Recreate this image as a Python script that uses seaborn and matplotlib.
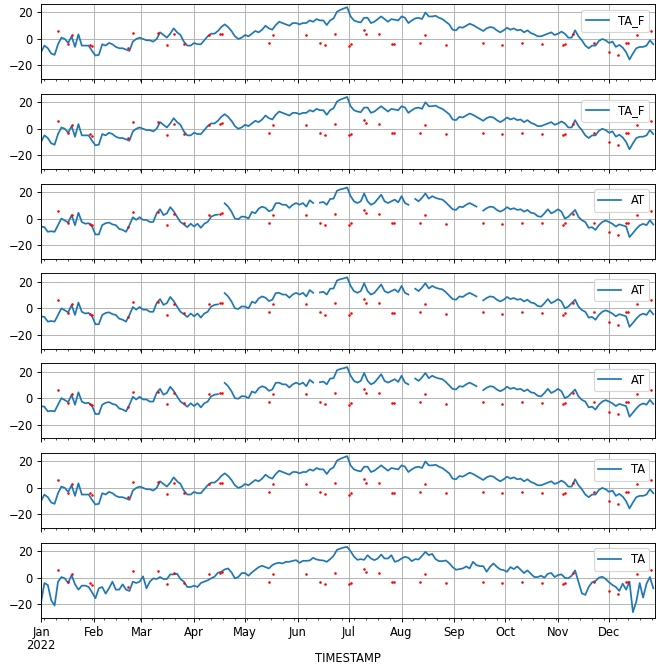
import numpy as np
import pandas as pd
import matplotlib
matplotlib.use("Agg")
import matplotlib.pyplot as plt
import matplotlib.dates as mdates
import matplotlib.ticker as mticker
import seaborn as sns

# ---------------- data (2-day resolution, 2022-01-01 .. 2022-12-27) ----------------
start_date = "2022-01-01"
n_points = 181

ta_f = [
    -10, -5, -7, -11, -12, -4, 1, 0, -3, 2,
    -6, 3.5, -5, -5, -5, -9, -12.5, -12, -4, -5,
    -3, -4, -6, -7, -7, -8, -9, -2, 0, 1,
    0, -1, -1, -2, 0, 5, 3, 1, 4, 8,
    5, 3, -2, -5, -5, -3, -4, -4, -1, 2,
    4, 4, 6, 9, 11, 9, 6, 2, 0, 1,
    3, 2, 4, 6, 5, 7, 10, 8, 7, 10.5,
    13, 12, 11, 10, 12, 12, 11, 12, 12, 14,
    13, 15, 14, 14, 10.5, 14, 15.5, 20.5, 22, 23,
    24, 17, 14, 13, 12.5, 16, 16, 12, 13, 15,
    17, 15, 13, 15, 14.5, 14, 17, 16, 12, 14,
    15.5, 16, 15, 20, 17, 17, 17.5, 16, 15, 13,
    11, 7, 6.5, 9, 8.5, 10, 11.5, 10.5, 9, 7.5,
    6, 8, 9, 8.5, 6.5, 5, 6.5, 8.5, 7, 8,
    6.5, 7, 5, 6.5, 4.5, 3.5, 2, 2, 3, 4,
    5, 3, 4, 5.5, 4, 1, 1, 6.5, 2, -1,
    -5, -7, -5, -5, -1.5, 0, -1, -3, -2, -6,
    -4.5, -6.5, -10, -15.5, -11, -7, -6, -6, -5, -1,
    -4,
]

nan = np.nan
at = [
    -6, -6.5, -10, -9.6, -10, -5, 0, -1.5, -3, 2.5,
    -5, 4.4, -2.6, -3.9, -3.5, -6, -12, -12, -5, -3.5,
    -3, -4.4, -5, -7.8, -8.6, -10, -5, 1, -1, 1,
    -1, -1, -2.6, -2.6, 4, 7, 2.6, 3.9, 8.6, 5.5,
    1.3, -2.6, -4.4, -6.5, -3.9, -6, -3.9, -7, -3.9, -2.6,
    1.3, 2.6, 3, nan, 11.5, 9, 5.2, 0, -0.5, 1.5,
    1.3, 0, 5, 4, 7.5, 9, 8, 5.5, 6.5, 11.5,
    11.7, 10.4, 10.4, 8, 10.4, 11.7, 10.4, 11.7, 9, 13.8,
    11.7, nan, 12, 12.5, 10.4, 14.8, 15, 21, 22, 22.6,
    23.4, 17, 13, 11.7, 13, 19, 13, 10.4, 11.7, 14.8,
    18, 13, 11.7, 13, 14.3, 12.2, 16.9, 11.7, 10.4, nan,
    14.8, 13, 15.6, 19, 15, 16.9, 15.6, 14.8, 14.3, 12.2,
    9.6, 7, 6.5, 9, 8.6, 10.4, 11.7, 10.4, 9, nan,
    6, 7.8, 9, 8.6, 6.5, 5.2, 6.5, 8.6, 7, 7.8,
    6.5, 7, 5.2, 6.5, 4.4, 3.9, 1.8, 1.3, 3.9, 7,
    3.9, 5.2, 7, 5.2, 0, 1.3, 3.9, 6.5, 1.3, -1.3,
    -2.6, -7, -6.5, -8.6, -5, -2.6, -1.5, -2.6, -4, -6,
    -4.4, -5.2, -6, -14, -11, -7.8, -5.2, -4, -5, -1.3,
    -4.5,
]

ta = [
    -19, -4, -5.5, -17, -21, -3, 0.5, -0.5, -4, 2,
    -5, -9, -6, -6, -7, -11, -15.5, -8, -7, -12,
    -8, -3, -9, -9, -5, -9, -10, -3, -4, -3,
    1, -8, -3, -0.5, -1, 0.5, -1, -1, 2.5, 2.5,
    3, -1, -3, -7, -7, -6, -7, -4, -3, -2,
    -0.5, 0.75, 3.75, 4.5, 6.25, 7, 4, -0.5, 0.5, 3.5,
    3.5, 1.5, 4, 6, 8, 9, 8, 7, 9.5, 10.75,
    11.25, 10.75, 12, 12, 12.75, 13.25, 11.25, 12.75, 12.75, 13,
    15, 13.75, 13.25, 13, 12, 14, 16.5, 21, 22, 22.75,
    23.25, 20, 16, 13.5, 14, 13.5, 17, 14.5, 13.25, 14.5,
    17.5, 14.5, 14.5, 17, 12, 12.75, 14.5, 15.75, 15, 12.5,
    14, 13.75, 16.5, 19.5, 17, 18, 14, 12.5, 12.5, 13,
    11, 8, 6, 6.5, 7, 8.5, 7, 12, 9.5, 8.75,
    8.75, 4.5, 8.25, 10.75, 8.25, 6.25, 5.75, 4.5, 8, 6.5,
    8.5, 6, 3.5, 5.5, 3, 0.5, 0.5, 1.5, 0, 3,
    3.5, 0.5, 2, 2.5, 0, -0.5, 1.5, 5.5, -3, -11.75,
    -13, -7, -3.5, -2.5, 0, 0.75, -1, -3.5, -5.5, -7,
    -10, -4.5, -9, -3, -26, -18, -4, -15, -4.5, 0.5,
    -8,
]

# red marker points (day of year offset, value)
dot_days = [10, 16, 18, 29, 30, 51, 54, 69, 74, 78, 84, 99, 105.5, 106.5, 134, 136.5,
            156, 164, 167, 173, 181, 182, 190, 191, 199, 206.5, 207.5, 223, 226, 238,
            260, 271, 283, 294.5, 307, 308, 313, 325, 334, 339, 344, 345, 350.5, 358.5]
dot_vals = [6, -3.5, 3, -4.2, -5.2, -6.7, 4.8, 4.8, -4.7, 3.5, -3.7, 3, 3.8, 4, -3, 3,
            3, -3, -4.7, 3.8, -5, -3.7, 6.8, 4, 3.8, -3.5, -3.5, -3, 3, -4.2,
            -3, -4.2, -3, -3.7, -4.7, -3.7, 3.8, -3, -10.2, -12.2, -3, -3, 3, 6]

panel_labels = ["TA_F", "TA_F", "AT", "AT", "AT", "TA", "TA"]
panel_series = [ta_f, ta_f, at, at, at, ta_f, ta]

# ---------------- plot ----------------
dates = pd.date_range(start_date, periods=n_points, freq="2D")
dot_dates = pd.Timestamp(start_date) + pd.to_timedelta(dot_days, unit="D")

DPI = 83
fig, axes = plt.subplots(7, 1, figsize=(656 / DPI, 664 / DPI), dpi=DPI,
                         sharex=True, sharey=True)
fig.subplots_adjust(left=0.0625, right=0.9985, top=0.994, bottom=0.0693, hspace=0.193)

def month_fmt(x, pos=None):
    d = mdates.num2date(x)
    if d.month == 1:
        return d.strftime("%b\n%Y")
    return d.strftime("%b")

for i, (ax, lab, vals) in enumerate(zip(axes, panel_labels, panel_series)):
    df = pd.DataFrame({"TIMESTAMP": dates, "value": vals})
    df["seg"] = df["value"].isna().cumsum()
    df = df.dropna()
    sns.lineplot(data=df, x="TIMESTAMP", y="value", units="seg", estimator=None,
                 ax=ax, color="#1f77b4", linewidth=1.5, label=lab)
    sns.scatterplot(x=dot_dates, y=dot_vals, ax=ax, color="red", s=5,
                    linewidth=0, legend=False, zorder=3)
    handles, labels = ax.get_legend_handles_labels()
    ax.legend(handles[:1], labels[:1], loc="upper right")
    ax.set_ylim(-30.4, 26.4)
    ax.set_yticks([-20, 0, 20])
    ax.set_xlim(pd.Timestamp("2022-01-01"), pd.Timestamp("2022-12-28"))
    ax.xaxis.set_major_locator(mdates.MonthLocator())
    ax.xaxis.set_minor_locator(mdates.WeekdayLocator(byweekday=mdates.MO))
    ax.xaxis.set_major_formatter(mticker.FuncFormatter(month_fmt))
    ax.grid(True, which="major", color="#b0b0b0", linewidth=0.8)
    ax.set_ylabel("")
    ax.set_xlabel("")

axes[-1].set_xlabel("TIMESTAMP", labelpad=0)
for lbl in axes[-1].get_xticklabels():
    lbl.set_rotation(0)
    lbl.set_ha("center")
    lbl.set_linespacing(1.0)

fig.savefig("out.png", dpi=DPI)
